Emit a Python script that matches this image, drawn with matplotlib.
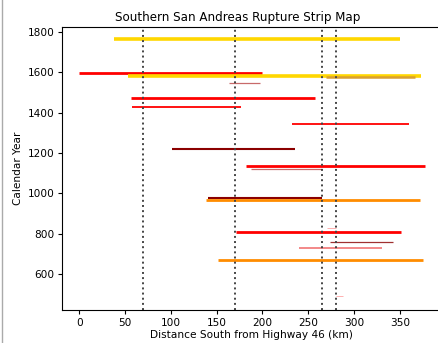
import matplotlib.pyplot as plt
from matplotlib.lines import Line2D

# rupturas: inicio (km), fin (km), año
start_km = [37.5, 0, 53.5, 269, 164, 56.5, 58, 232, 101, 182.5, 187.6, 141, 138.5, 270.7, 171.6, 274, 240, 151, 280]
end_km = [350, 199, 372.7, 367, 197, 257, 177, 360, 236, 377, 265, 264.5, 372, 280, 351, 342, 330, 375, 288]
years = [1764, 1597, 1582, 1574, 1544, 1470, 1427, 1344, 1218, 1133, 1118, 975, 965, 828, 806, 757, 727, 669, 489]
kind = ['g', 'r', 'g', 'go', 'rs', 'r', 'r2', 'r2', 'm', 'r', 'rs', 'm', 'o', 'p', 'r', 'm2', 'sa', 'o', 'p']

fault_km = [70, 170, 265, 280]

estilos = {
    'g': ('gold', 2.6),
    'go': ('#d9a030', 1.8),
    'r': ('red', 2),
    'r2': ('red', 1.3),
    'rs': ('#c86a6a', 0.9),
    'm': ('darkred', 1.5),
    'm2': ('#a03030', 0.9),
    'o': ('darkorange', 2),
    'sa': ('#f06868', 1.1),
    'p': ('#ffb0b0', 0.7),
}

fig = plt.figure(figsize=(4.39, 3.43), dpi=100)
ax = fig.add_axes([62 / 439, 33 / 343, 378 / 439, 283.3 / 343])

for x0, x1, y, k in zip(start_km, end_km, years, kind):
    c, lw = estilos[k]
    ax.plot([x0, x1], [y, y], color=c, lw=lw, solid_capstyle='butt')

for f in fault_km:
    ax.axvline(f, color='#444444', ls=':', lw=1.4)

ax.set_xlim(-18.75, 393.75)
ax.set_ylim(422, 1825)
ax.set_xticks([0, 50, 100, 150, 200, 250, 300, 350])
ax.set_yticks([600, 800, 1000, 1200, 1400, 1600, 1800])
ax.tick_params(labelsize=7.6, length=3, pad=2.5)
ax.set_xlabel('Distance South from Highway 46 (km)', fontsize=7.6, labelpad=1.5)
ax.set_ylabel('Calendar Year', fontsize=7.6, labelpad=3)
ax.set_title('Southern San Andreas Rupture Strip Map', fontsize=8.6, pad=4,
             x=(237.5 - 62) / 378)

# borde gris a la izquierda
fig.add_artist(Line2D([2 / 439, 2 / 439], [0, 1], color='#aaaaaa', lw=1))

fig.savefig('out.png', dpi=100)
